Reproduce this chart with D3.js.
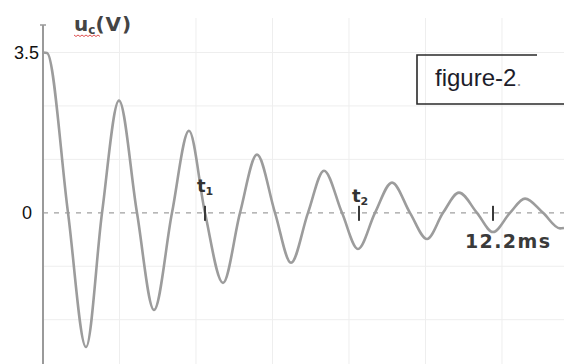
<!DOCTYPE html>
<html>
<head>
<meta charset="utf-8">
<script src="https://cdn.jsdelivr.net/npm/d3@7"></script>
<style>
  html, body { margin: 0; padding: 0; background: #fff; }
  svg { display: block; }
</style>
</head>
<body>
<svg id="chart" width="564" height="364"></svg>
<script>
// ---- data ----
const timeMs = [0, 0.11, 0.678, 1.166, 1.600, 2.060, 2.548, 3.009, 3.497, 3.958, 4.392, 4.880,
  5.341, 5.802, 6.290, 6.724, 7.184, 7.618, 8.106, 8.540, 9.001, 9.462, 9.950, 10.411,
  10.845, 11.278, 11.766, 12.2, 12.661, 13.068, 13.556, 14.017, 14.125];
const voltage = [3.5, 3.49, 0, -2.93, 0, 2.45, 0, -2.12, 0, 1.79, 0, -1.53,
  0, 1.27, 0, -1.09, 0, 0.92, 0, -0.79, 0, 0.66, 0, -0.57,
  0, 0.44, 0, -0.42, 0, 0.31, 0, -0.34, -0.33];
const gridTimes = [2.074, 4.148, 6.222, 8.296, 10.37, 12.444];
const gridVolts = [3.5, 2.3333, 1.1667, -1.1667, -2.3333];
const markerTimes = [4.392, 8.567, 12.2];
const yTickValues = [3.5, 0];
const yTickLabels = ["3.5", "0"];

const svg = d3.select("#chart");
const x = d3.scaleLinear().domain([0, 14.125]).range([43, 564]);
const y = d3.scaleLinear().domain([-3.3, 4.1]).range([364, 25]);

// gridlines
svg.append("g").selectAll("line").data(gridTimes).join("line")
  .attr("x1", d => x(d)).attr("x2", d => x(d))
  .attr("y1", 18).attr("y2", 364)
  .attr("stroke", "#eeeeee").attr("stroke-width", 1);
svg.append("g").selectAll("line").data(gridVolts).join("line")
  .attr("x1", x(0)).attr("x2", 564)
  .attr("y1", d => y(d)).attr("y2", d => y(d))
  .attr("stroke", "#eeeeee").attr("stroke-width", 1);

// zero dashed line
svg.append("line")
  .attr("x1", x(0)).attr("x2", 564)
  .attr("y1", y(0)).attr("y2", y(0))
  .attr("stroke", "#a0a0a0").attr("stroke-width", 1.3)
  .attr("stroke-dasharray", "5,6");

// y axis line
svg.append("line")
  .attr("x1", x(0)).attr("x2", x(0))
  .attr("y1", y(4.1)).attr("y2", 364)
  .attr("stroke", "#9a9a9a").attr("stroke-width", 2);
svg.append("line")
  .attr("x1", x(0) - 3).attr("x2", x(0) + 3)
  .attr("y1", y(4.1)).attr("y2", y(4.1))
  .attr("stroke", "#9a9a9a").attr("stroke-width", 1.5);

// y tick labels
svg.append("g").selectAll("text").data(yTickValues).join("text")
  .attr("x", (d, i) => i === 0 ? 39 : 32)
  .attr("y", d => y(d))
  .attr("dy", "0.36em")
  .attr("text-anchor", "end")
  .attr("font-family", "Liberation Sans, Arial, sans-serif")
  .attr("font-size", 18)
  .attr("fill", "#111")
  .text((d, i) => yTickLabels[i]);

// curve
const pts = timeMs.map((t, i) => [t, voltage[i]]);
const line = d3.line().x(d => x(d[0])).y(d => y(d[1])).curve(d3.curveMonotoneX);
svg.append("path").datum(pts)
  .attr("d", line)
  .attr("fill", "none")
  .attr("stroke", "#9c9c9c")
  .attr("stroke-width", 2.6)
  .attr("stroke-linejoin", "round");

// markers
svg.append("g").selectAll("line").data(markerTimes).join("line")
  .attr("x1", d => x(d)).attr("x2", d => x(d))
  .attr("y1", y(0) - 7).attr("y2", y(0) + 8)
  .attr("stroke", "#3a3a3a").attr("stroke-width", 2);

const boldFont = "DejaVu Sans, Verdana, sans-serif";
function subLabel(px, py, main, sub) {
  const t = svg.append("text")
    .attr("x", px).attr("y", py)
    .attr("font-family", boldFont).attr("font-weight", "bold")
    .attr("font-size", 18).attr("fill", "#333");
  t.append("tspan").text(main);
  t.append("tspan").attr("font-size", 11).attr("dy", 3).text(sub);
}
subLabel(x(markerTimes[0]) - 8, 192, "t", "1");
subLabel(x(markerTimes[1]) - 7, 202, "t", "2");

svg.append("text")
  .attr("x", x(markerTimes[2]) - 28).attr("y", 248)
  .attr("font-family", boldFont).attr("font-weight", "bold")
  .attr("font-size", 19).attr("letter-spacing", 1.4)
  .attr("fill", "#3a3a3a")
  .text("12.2ms");

// y axis title u_c(V)
const yt = svg.append("text")
  .attr("x", 74).attr("y", 31)
  .attr("font-family", boldFont).attr("font-weight", "bold")
  .attr("font-size", 20).attr("fill", "#444");
yt.append("tspan").text("u");
yt.append("tspan").attr("font-size", 12).attr("dy", 3).text("c");
yt.append("tspan").attr("dy", -3).attr("letter-spacing", 1).text("(V)");
// spell-check squiggle
const sq = d3.range(0, 14).map(i => [74 + i * 2, 35 + (i % 2 ? 1.5 : 0)]);
svg.append("path")
  .attr("d", d3.line()(sq))
  .attr("fill", "none").attr("stroke", "#e05050").attr("stroke-width", 1);

// figure-2 box (cropped)
svg.append("path")
  .attr("d", "M537,55 H417 V104 H564")
  .attr("fill", "none").attr("stroke", "#2a2a2a").attr("stroke-width", 1.6);
const ft = svg.append("text")
  .attr("x", 435).attr("y", 86)
  .attr("font-family", "Liberation Sans, Arial, sans-serif")
  .attr("font-size", 24).attr("fill", "#1d1d2b");
ft.append("tspan").text("figure-2");
ft.append("tspan").attr("fill", "#999").attr("font-size", 18).text(".");
</script>
</body>
</html>
